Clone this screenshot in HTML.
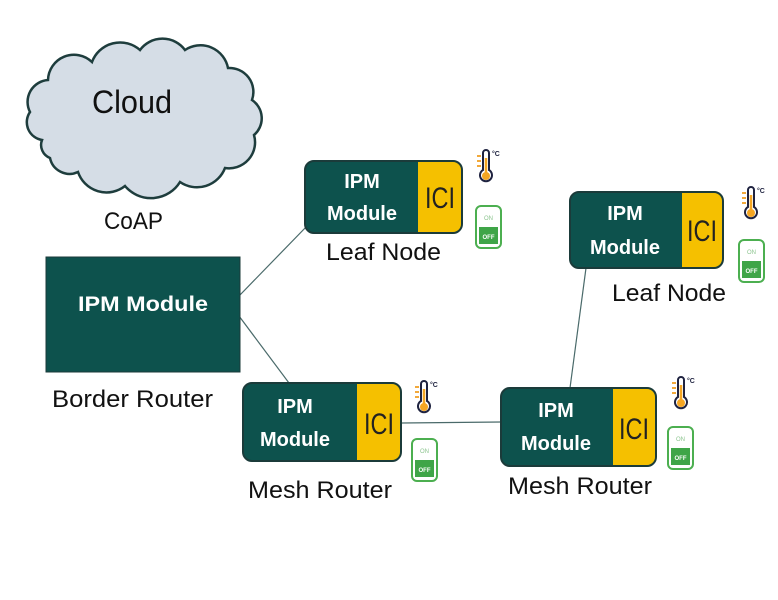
<!DOCTYPE html>
<html><head><meta charset="utf-8"><style>
html,body{margin:0;padding:0;background:#fff;}
svg{display:block;font-family:"Liberation Sans",sans-serif;}
</style></head><body>
<svg width="778" height="600" viewBox="0 0 778 600" xmlns="http://www.w3.org/2000/svg">
<defs>
<g id="th">
  <line x1="-9" y1="6" x2="-5" y2="6" stroke="#f2a93b" stroke-width="2"/>
  <line x1="-9" y1="11" x2="-5" y2="11" stroke="#f2a93b" stroke-width="2"/>
  <line x1="-9" y1="16" x2="-5" y2="16" stroke="#f2a93b" stroke-width="2"/>
  <path d="M-3,3 a3,3 0 0 1 6,0 v17 a6,6 0 1 1 -6,0 z" fill="#fff" stroke="#1f2340" stroke-width="2"/>
  <line x1="0" y1="8" x2="0" y2="24" stroke="#f5a623" stroke-width="2.5"/>
  <circle cx="0" cy="26" r="4" fill="#f5a623"/>
  <text x="6" y="6" font-size="7" font-weight="bold" fill="#1f2340">°C</text>
</g>
<g id="sw">
  <rect x="1" y="1" width="25" height="42" rx="5" fill="#fff" stroke="#4caf50" stroke-width="2"/>
  <text x="13.5" y="15" font-size="6" fill="#8bc48e" text-anchor="middle">ON</text>
  <rect x="4" y="22" width="19" height="17" fill="#3fa548"/>
  <text x="13.5" y="34" font-size="6" font-weight="bold" fill="#fff" text-anchor="middle">OFF</text>
</g>
</defs>

<g stroke="#4a6a6a" stroke-width="1.2">
<line x1="239" y1="296" x2="308" y2="225"/>
<line x1="239" y1="316" x2="289" y2="383"/>
<line x1="402" y1="423" x2="501" y2="422"/>
<line x1="570" y1="388" x2="586" y2="268"/>
</g>

<path d="M42,140 A18 18 0 0 1 30,112 A22 22 0 0 1 48,80 A26 26 0 0 1 92,62 A30 30 0 0 1 140,50 A28 28 0 0 1 185,50 A28 28 0 0 1 228,68 A24 24 0 0 1 252,100 A22 22 0 0 1 254,135 A26 26 0 0 1 225,168 A30 30 0 0 1 180,182 A34 34 0 0 1 125,186 A30 30 0 0 1 78,172 A20 20 0 0 1 50,158 A14 14 0 0 1 42,140 Z" fill="#d5dde6" stroke="#1e3d3d" stroke-width="2.5"/>
<text x="92" y="113" font-size="32" fill="#111" textLength="80" lengthAdjust="spacingAndGlyphs">Cloud</text>
<text x="104" y="229" font-size="24" fill="#111" textLength="59" lengthAdjust="spacingAndGlyphs">CoAP</text>

<rect x="46" y="257" width="194" height="115" fill="#0d524d" stroke="#1b3b3a" stroke-width="1"/>
<text x="78" y="311" font-size="21" font-weight="bold" fill="#fff" textLength="130" lengthAdjust="spacingAndGlyphs">IPM Module</text>
<text x="52" y="407" font-size="24" fill="#111" textLength="161" lengthAdjust="spacingAndGlyphs">Border Router</text>

<g>
<rect x="305" y="161" width="157" height="72" rx="9" fill="#0d524d" stroke="#1b3b3a" stroke-width="2"/>
<path d="M418,162 H453 a8,8 0 0 1 8,8 V224 a8,8 0 0 1 -8,8 H418 Z" fill="#f5c000"/>
<text x="362" y="188" font-size="20" font-weight="bold" fill="#fff" text-anchor="middle">IPM</text>
<text x="362" y="220" font-size="20" font-weight="bold" fill="#fff" text-anchor="middle">Module</text>
<text x="440" y="208" font-size="30" fill="#222" text-anchor="middle" textLength="30" lengthAdjust="spacingAndGlyphs">ICI</text>
<text x="326" y="260" font-size="24" fill="#111" textLength="115" lengthAdjust="spacingAndGlyphs">Leaf Node</text>
</g>
<g>
<rect x="570" y="192" width="153" height="76" rx="9" fill="#0d524d" stroke="#1b3b3a" stroke-width="2"/>
<path d="M682,193 H714 a8,8 0 0 1 8,8 V259 a8,8 0 0 1 -8,8 H682 Z" fill="#f5c000"/>
<text x="625" y="220" font-size="20" font-weight="bold" fill="#fff" text-anchor="middle">IPM</text>
<text x="625" y="254" font-size="20" font-weight="bold" fill="#fff" text-anchor="middle">Module</text>
<text x="702" y="241" font-size="30" fill="#222" text-anchor="middle" textLength="30" lengthAdjust="spacingAndGlyphs">ICI</text>
<text x="612" y="301" font-size="24" fill="#111" textLength="114" lengthAdjust="spacingAndGlyphs">Leaf Node</text>
</g>
<g>
<rect x="243" y="383" width="158" height="78" rx="9" fill="#0d524d" stroke="#1b3b3a" stroke-width="2"/>
<path d="M357,384 H392 a8,8 0 0 1 8,8 V452 a8,8 0 0 1 -8,8 H357 Z" fill="#f5c000"/>
<text x="295" y="413" font-size="20" font-weight="bold" fill="#fff" text-anchor="middle">IPM</text>
<text x="295" y="446" font-size="20" font-weight="bold" fill="#fff" text-anchor="middle">Module</text>
<text x="379" y="434" font-size="30" fill="#222" text-anchor="middle" textLength="30" lengthAdjust="spacingAndGlyphs">ICI</text>
<text x="248" y="498" font-size="24" fill="#111" textLength="144" lengthAdjust="spacingAndGlyphs">Mesh Router</text>
</g>
<g>
<rect x="501" y="388" width="155" height="78" rx="9" fill="#0d524d" stroke="#1b3b3a" stroke-width="2"/>
<path d="M613,389 H647 a8,8 0 0 1 8,8 V457 a8,8 0 0 1 -8,8 H613 Z" fill="#f5c000"/>
<text x="556" y="417" font-size="20" font-weight="bold" fill="#fff" text-anchor="middle">IPM</text>
<text x="556" y="450" font-size="20" font-weight="bold" fill="#fff" text-anchor="middle">Module</text>
<text x="634" y="439" font-size="30" fill="#222" text-anchor="middle" textLength="30" lengthAdjust="spacingAndGlyphs">ICI</text>
<text x="508" y="494" font-size="24" fill="#111" textLength="144" lengthAdjust="spacingAndGlyphs">Mesh Router</text>
</g>

<use href="#th" x="486" y="150"/>
<use href="#th" x="751" y="187"/>
<use href="#th" x="424" y="381"/>
<use href="#th" x="681" y="377"/>
<use href="#sw" x="475" y="205"/>
<use href="#sw" x="738" y="239"/>
<use href="#sw" x="411" y="438"/>
<use href="#sw" x="667" y="426"/>
</svg>
</body></html>
